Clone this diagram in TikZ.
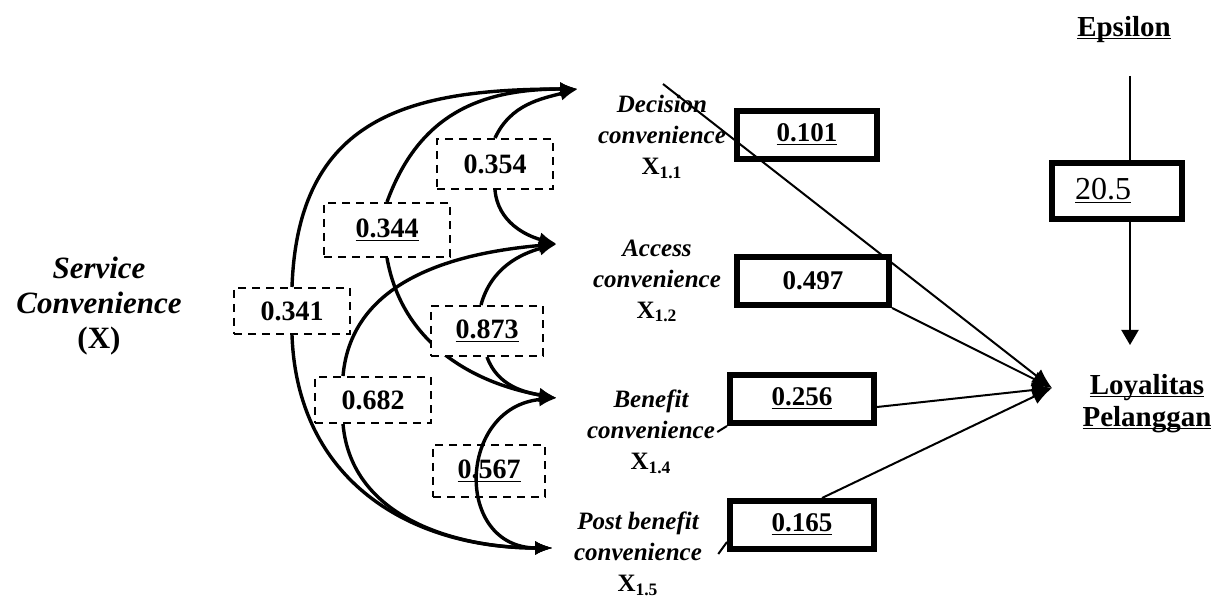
\documentclass[tikz,border=0pt]{standalone}
\usepackage{fontspec}
\setmainfont{Liberation Serif}
\usetikzlibrary{arrows.meta,positioning,calc}
\pgfdeclarelayer{bg}
\pgfsetlayers{bg,main}

\newcommand{\xind}[1]{\textup{X\textsubscript{#1}}}
\newcommand{\ulx}[1]{\underline{\raisebox{0pt}[\height][0pt]{#1}}}

\begin{document}
\begin{tikzpicture}[
  x=0.5pt, y=-0.5pt,
  corrbox/.style={draw, dash pattern=on 4pt off 3pt, line width=1pt, fill=white, minimum width=58pt, minimum height=25pt, inner sep=0pt, font=\bfseries\fontsize{14}{16}\selectfont},
  coefbox/.style={draw, line width=3pt, fill=white, minimum width=70pt, minimum height=24pt, inner sep=0pt, font=\bfseries\fontsize{13.5}{16}\selectfont},
  ind/.style={align=center, inner sep=1pt, font=\bfseries\itshape\fontsize{12.5}{15.5}\selectfont},
  corr/.style={line width=1.7pt, -{Latex[length=9pt,width=7pt]}},
  effect/.style={line width=1pt, -{Latex[length=10pt,width=8pt]}}
]
\useasboundingbox (0,0) rectangle (1217,598);

% variable X and its indicators
\node[align=center, font=\bfseries\fontsize{15.5}{17.5}\selectfont] (svc) at (99,306) {\textit{Service}\\\textit{Convenience}\\(X)};
\node[ind] (declbl) at (662,137) {Decision\\convenience\\\xind{1.1}};
\node[ind] (acclbl) at (657,281) {Access\\convenience\\\xind{1.2}};
\node[ind] (benlbl) at (651,432) {Benefit\\convenience\\\xind{1.4}};
\node[ind] (postlbl) at (638,554) {Post benefit\\convenience\\\xind{1.5}};

\coordinate (tDec) at (578,89);
\coordinate (tAcc) at (557,244);
\coordinate (tBen) at (557,398);
\coordinate (tPost) at (553,548);

% correlations
\node[corrbox] (c354) at (495,164) {0.354};
\node[corrbox, minimum width=63pt, minimum height=27pt] (c344) at (387,230) {\ulx{0.344}};
\node[corrbox, minimum height=23pt] (c341) at (292,311) {0.341};
\node[corrbox, minimum width=56pt] (c873) at (487,331) {\ulx{0.873}};
\node[corrbox, minimum height=23pt] (c682) at (373,400) {0.682};
\node[corrbox, minimum width=56pt, minimum height=26pt] (c567) at (489,471) {\ulx{0.567}};

\begin{pgfonlayer}{bg}
\draw[corr] (c341.north) to[out=88,in=180,looseness=1.25] (tDec);
\draw[corr] (c341.south) to[out=-88,in=180,looseness=1.1] (tPost);
\draw[corr] (c344.north) to[out=70,in=180,looseness=1.1] (tDec);
\draw[corr] (c344.south) to[out=-80,in=170] (tBen);
\draw[corr] (c354.north) to[out=65,in=195] (tDec);
\draw[corr] (c354.south) to[out=-85,in=165] (tAcc);
\draw[corr] ([xshift=-15pt]c682.north) to[out=85,in=185] (tAcc);
\draw[corr] ([xshift=-15pt]c682.south) to[out=-85,in=180] (tPost);
\draw[corr] ([xshift=-3pt]c873.north) to[out=75,in=195] (tAcc);
\draw[corr] (c873.south) to[out=-70,in=170] (tBen);
\end{pgfonlayer}
\draw[corr, {Latex[length=9pt,width=7pt]}-{Latex[length=9pt,width=7pt]}] (tBen) to[out=185,in=180,looseness=1.7] (tPost);

% path coefficients
\node[coefbox] (b101) at (807,135) {\ulx{0.101}};
\node[coefbox, minimum width=76pt] (b497) at (813,281) {0.497};
\node[coefbox, minimum width=72pt] (b256) at (802,399) {\ulx{0.256}};
\node[coefbox, minimum width=72pt] (b165) at (802,525) {\ulx{0.165}};

\node[font=\bfseries\fontsize{14.5}{17}\selectfont] (eps) at (1124,28) {\ulx{Epsilon}};
\node[coefbox, minimum width=65pt, minimum height=28pt, text width=42pt, align=left, font=\fontsize{16}{18}\selectfont] (b205) at (1117,191) {\ulx{20.5}};
\node[align=center, font=\bfseries\fontsize{14.5}{16}\selectfont] (loyal) at (1147,402) {\ulx{Loyalitas}\\\ulx{Pelanggan}};

\coordinate (yin) at (1052,388);
\coordinate (decln) at (663,84);
\coordinate (etop) at (1130,76);
\coordinate (ehead) at (1130,345);

\draw[effect] (decln) -- (yin);
\draw[effect] (b497.south east) -- (yin);
\draw[effect] ([yshift=-4pt]b256.east) -- (yin);
\draw[effect] ([xshift=10pt]b165.north) -- (yin);
\draw[line width=1pt] (benlbl.east) -- (b256.south west);
\draw[line width=1pt] ([xshift=7pt]postlbl.east) -- ([yshift=5pt]b165.south west);

\draw[line width=1pt] (etop) -- (etop |- b205.north);
\draw[line width=1pt, -{Triangle[length=7.5pt,width=8.5pt]}] (etop |- b205.south) -- (ehead);

\end{tikzpicture}
\end{document}
